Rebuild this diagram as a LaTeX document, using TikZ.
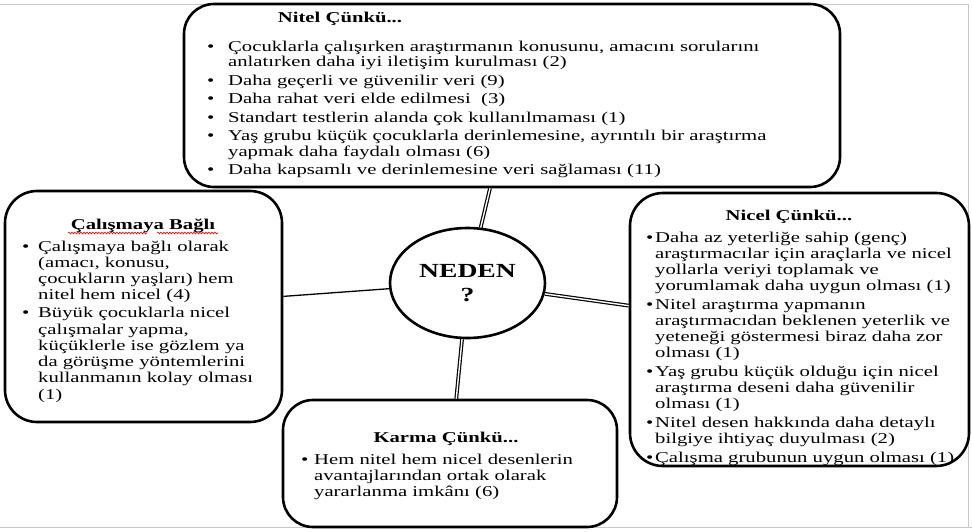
\documentclass[tikz,border=0pt]{standalone}
\usepackage{fontspec}
\setmainfont{Liberation Serif}[FakeStretch=1.38]
\usetikzlibrary{shapes.geometric,decorations.pathmorphing}
\tikzset{
  box/.style={draw, line width=2.6pt, rounded corners=30pt, fill=white, inner sep=0pt},
  link/.style={draw, double=white, line width=1.2pt, double distance=1.4pt},
  thinlink/.style={draw, line width=1.3pt},
  hdr/.style={font=\bfseries\fontsize{15}{16}\selectfont, inner sep=0pt, anchor=base},
  lst/.style={inner sep=0pt, anchor=base west, align=left},
  frame/.style={draw=black!22, line width=1pt},
  spell/.style={draw=red, line width=0.6pt, decorate, decoration={snake, amplitude=0.9pt, segment length=3pt}},
}
\newcommand\bul[1]{\makebox[#1pt][l]{•}}
\begin{document}
\begin{tikzpicture}[x=1pt,y=-1pt]
\useasboundingbox (0,0) rectangle (972,531);
\fill[white] (0,0) rectangle (972,531);
% faint screenshot frame
\draw[frame] (0,4.5) -- (968,4.5) -- (968,527.5);
\draw[frame] (0,527.5) -- (972,527.5);

% boxes
\node[box, minimum width=656pt, minimum height=183pt] (top) at (512,95.5) {};
\node[box, rounded corners=32pt, minimum width=277pt, minimum height=231pt] (left) at (143.5,306.5) {};
\node[box, rounded corners=33pt, minimum width=339pt, minimum height=273pt] (right) at (799.5,329.5) {};
\node[box, minimum width=334pt, minimum height=127pt] (bottom) at (450,463.5) {};

% top box text
\node[hdr] (toph) at (340,22) {Nitel Çünkü...};
\node[lst, font=\fontsize{15}{15.5}\selectfont] (topl) at (207,51) {\begin{tabular}[t]{@{}l@{}l@{}}
\bul{21}& Çocuklarla çalışırken araştırmanın konusunu, amacını sorularını\\
& anlatırken daha iyi iletişim kurulması (2)\\[3pt]
\bul{21}& Daha geçerli ve güvenilir veri (9)\\[3pt]
\bul{21}& Daha rahat veri elde edilmesi \ (3)\\[3pt]
\bul{21}& Standart testlerin alanda çok kullanılmaması (1)\\[3pt]
\bul{21}& Yaş grubu küçük çocuklarla derinlemesine, ayrıntılı bir araştırma\\
& yapmak daha faydalı olması (6)\\[3pt]
\bul{21}& Daha kapsamlı ve derinlemesine veri sağlaması (11)
\end{tabular}};

% left box text
\node[hdr] (lefth) at (143,229) {Çalışmaya Bağlı};
\draw[spell] (68,233) -- (147,233);
\draw[spell] (157,233) -- (218,233);
\node[lst, font=\fontsize{15}{16.3}\selectfont] (leftl) at (22,251) {\begin{tabular}[t]{@{}l@{}l@{}}
\bul{16}& Çalışmaya bağlı olarak\\
& (amacı, konusu,\\
& çocukların yaşları) hem\\
& nitel hem nicel (4)\\[1.5pt]
\bul{16}& Büyük çocuklarla nicel\\
& çalışmalar yapma,\\
& küçüklerle ise gözlem ya\\
& da görüşme yöntemlerini\\
& kullanmanın kolay olması\\
& (1)
\end{tabular}};

% right box text
\node[hdr] (righth) at (789,220) {Nicel Çünkü...};
\node[lst, font=\fontsize{15}{16}\selectfont] (rightl) at (646,242) {\begin{tabular}[t]{@{}l@{}l@{}}
\bul{9}& Daha az yeterliğe sahip (genç)\\
& araştırmacılar için araçlarla ve nicel\\
& yollarla veriyi toplamak ve\\
& yorumlamak daha uygun olması (1)\\[3pt]
\bul{9}& Nitel araştırma yapmanın\\
& araştırmacıdan beklenen yeterlik ve\\
& yeteneği göstermesi biraz daha zor\\
& olması (1)\\[3pt]
\bul{9}& Yaş grubu küçük olduğu için nicel\\
& araştırma deseni daha güvenilir\\
& olması (1)\\[3pt]
\bul{9}& Nitel desen hakkında daha detaylı\\
& bilgiye ihtiyaç duyulması (2)\\[3pt]
\bul{9}& Çalışma grubunun uygun olması (1)
\end{tabular}};

% bottom box text
\node[hdr] (both) at (446,442) {Karma Çünkü...};
\node[lst, font=\fontsize{15}{16}\selectfont] (botl) at (301,464) {\begin{tabular}[t]{@{}l@{}l@{}}
\bul{13}& Hem nitel hem nicel desenlerin\\
& avantajlarından ortak olarak\\
& yararlanma imkânı (6)
\end{tabular}};

% centre
\node[ellipse, draw, line width=2.6pt, fill=white, minimum width=155pt, minimum height=110pt,
      inner sep=0pt, align=center, font=\bfseries\fontsize{20}{24}\selectfont] (c) at (467.5,283) {NEDEN\\?};

% connectors
\draw[link] (c) -- (top);
\draw[link] (c) -- (right);
\draw[link] (c) -- (bottom);
\draw[thinlink] (c) -- (left);
\end{tikzpicture}
\end{document}
